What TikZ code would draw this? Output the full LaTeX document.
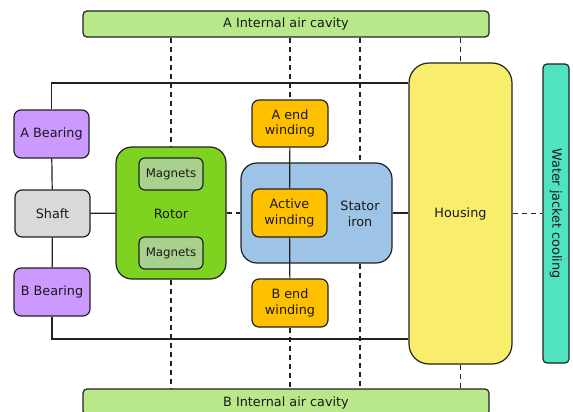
\documentclass[tikz,border=0pt]{standalone}
\usepackage{fontspec}
\setmainfont{DejaVu Sans}
\definecolor{cavity}{HTML}{B9E88A}
\definecolor{rotorc}{HTML}{7ED321}
\definecolor{magc}{HTML}{A9D18E}
\definecolor{bearc}{HTML}{CC99FF}
\definecolor{shaftc}{HTML}{D9D9D9}
\definecolor{windc}{HTML}{FFC000}
\definecolor{statc}{HTML}{9DC3E6}
\definecolor{housc}{HTML}{F9EE6B}
\definecolor{waterc}{HTML}{4FE3C1}
\definecolor{edge}{HTML}{222222}
\begin{document}
\begin{tikzpicture}[x=1pt,y=-1pt,
  lbl/.style={font=\fontsize{12.8}{15.5}\selectfont,align=center,text=black!90},
  box/.style={draw=edge,line width=1.2pt,rounded corners=#1,inner sep=0pt,lbl},
  box/.default=7pt,
  link/.style={draw=edge,line width=1.2pt},
  dlink/.style={draw=edge,line width=1.2pt,dash pattern=on 5pt off 4pt}]
\useasboundingbox (0,0) rectangle (573,412);
\begin{scope}
\clip (0,0) rectangle (573,412);
% cavities
\node[box=4pt,fill=cavity,minimum width=406pt,minimum height=26pt] (ac) at (286,24) {A Internal air cavity};
\node[box=4pt,fill=cavity,minimum width=406pt,minimum height=26pt] (bc) at (286,402) {};
\node[lbl] (bct) at (286,403) {B Internal air cavity};
\end{scope}
% housing and water
\node[box=20pt,fill=housc,minimum width=103pt,minimum height=301pt] (hs) at (460.5,213.5) {};
\node[lbl] (hst) at (460.5,214) {Housing};
\node[box=4pt,fill=waterc,minimum width=26pt,minimum height=299pt] (wj) at (556,213.5) {};
\node[lbl,rotate=-90] (wjt) at (556,213.5) {Water jacket cooling};
% frame lines
\coordinate (tl) at (53,83);
\coordinate (bl) at (53,339);
% left column
\node[box,fill=bearc,minimum width=75pt,minimum height=48pt] (ab) at (51.5,134) {A Bearing};
\node[box,fill=shaftc,minimum width=75pt,minimum height=47pt] (sh) at (52.5,213.5) {Shaft};
\node[box,fill=bearc,minimum width=76pt,minimum height=48pt] (bb) at (52,292) {B Bearing};
% rotor
\node[box=16pt,fill=rotorc,minimum width=110pt,minimum height=132pt] (ro) at (171,213) {};
\node[lbl] (rot) at (171,214) {Rotor};
\node[box=6pt,fill=magc,minimum width=64pt,minimum height=32pt,font=\fontsize{11.8}{14}\selectfont] (m1) at (171,174) {Magnets};
\node[box=6pt,fill=magc,minimum width=64pt,minimum height=32pt,font=\fontsize{11.8}{14}\selectfont] (m2) at (171,253) {Magnets};
% stator
\node[box=16pt,fill=statc,minimum width=151pt,minimum height=100pt] (st) at (316.5,213) {};
\node[lbl] (stt) at (360,214) {Stator\\iron};
\node[box,fill=windc,minimum width=75pt,minimum height=48pt] (aw) at (289.5,213) {Active\\winding};
\node[box,fill=windc,minimum width=76pt,minimum height=47pt] (ae) at (290,123.5) {A end\\winding};
\node[box,fill=windc,minimum width=76pt,minimum height=48pt] (be) at (290,303) {B end\\winding};
% solid connections
\draw[link] (ab.north) |- (tl) -- (tl -| hs.west);
\draw[link] (bb.south) |- (bl) -- (bl -| hs.west);
\draw[link] (ab) -- (sh);
\draw[link] (sh) -- (bb);
\draw[link] (sh) -- (ro);
\draw[link] (st) -- (hs.west |- st.east);
\draw[link] (ae) -- (aw);
\draw[link] (aw) -- (be);
% dashed
\draw[dlink] (ro.east) -- (st.west);
\draw[dlink] (hs.east |- wj.west) -- (wj.west);
\draw[dlink] (ac.south -| ro.north) -- (ro.north);
\draw[dlink] (ro.south) -- (bc.north -| ro.south);
\draw[dlink] (ac.south -| ae.north) -- (ae.north);
\draw[dlink] (be.south) -- (bc.north -| be.south);
\draw[dlink] (ac.south -| stt.north) -- (stt.north |- st.north);
\draw[dlink] (stt.south |- st.south) -- (bc.north -| stt.south);
\draw[dlink] (ac.south -| hs.north) -- (hs.north);
\draw[dlink] (hs.south) -- (bc.north -| hs.south);
\end{tikzpicture}
\end{document}
